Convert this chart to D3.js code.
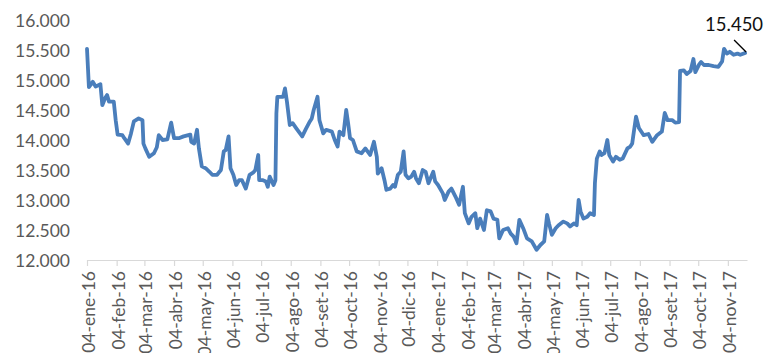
<!DOCTYPE html>
<html>
<head>
<meta charset="utf-8">
<script src="https://cdn.jsdelivr.net/npm/d3@7"></script>
<style>
  html, body { margin: 0; padding: 0; background: #fff; }
  svg { display: block; }
  text { font-family: Lato, "Liberation Sans", sans-serif; }
</style>
</head>
<body>
<svg id="chart" width="769" height="353"></svg>
<script>
// Daily closing series, 2016-01-04 .. 2017-11-22
const dates = [
  "2016-01-04","2016-01-06","2016-01-10","2016-01-13","2016-01-18","2016-01-20","2016-01-23","2016-01-25","2016-01-27",
  "2016-02-01","2016-02-03","2016-02-05","2016-02-10","2016-02-12","2016-02-16","2016-02-19","2016-02-22","2016-02-27",
  "2016-03-02","2016-03-03","2016-03-05","2016-03-09","2016-03-14","2016-03-17","2016-03-19","2016-03-23","2016-03-28",
  "2016-04-01","2016-04-04","2016-04-09","2016-04-14","2016-04-21","2016-04-22","2016-04-25","2016-04-28","2016-04-30",
  "2016-05-03","2016-05-07","2016-05-11","2016-05-14","2016-05-19","2016-05-23","2016-05-26","2016-05-28","2016-05-31",
  "2016-06-02","2016-06-05","2016-06-08","2016-06-11","2016-06-14","2016-06-18","2016-06-22","2016-06-26","2016-06-28",
  "2016-07-01","2016-07-02","2016-07-06","2016-07-09","2016-07-11","2016-07-13","2016-07-17","2016-07-19","2016-07-20",
  "2016-07-21","2016-07-25","2016-07-27","2016-07-29","2016-07-31",
  "2016-08-03","2016-08-06","2016-08-10","2016-08-16","2016-08-20","2016-08-24","2016-08-26","2016-08-28",
  "2016-09-01","2016-09-03","2016-09-07","2016-09-10","2016-09-16","2016-09-19","2016-09-22","2016-09-24","2016-09-28",
  "2016-10-01","2016-10-03","2016-10-05","2016-10-08","2016-10-12","2016-10-17","2016-10-21","2016-10-26","2016-10-30",
  "2016-11-02","2016-11-03","2016-11-07","2016-11-10","2016-11-12","2016-11-16","2016-11-19","2016-11-21","2016-11-24",
  "2016-11-27","2016-11-30",
  "2016-12-02","2016-12-05","2016-12-08","2016-12-11","2016-12-13","2016-12-16","2016-12-20","2016-12-23","2016-12-26",
  "2016-12-31",
  "2017-01-02","2017-01-05","2017-01-10","2017-01-12","2017-01-16","2017-01-19","2017-01-24","2017-01-27","2017-01-31",
  "2017-02-02","2017-02-06","2017-02-09","2017-02-13","2017-02-15","2017-02-18","2017-02-22","2017-02-25",
  "2017-03-01","2017-03-04","2017-03-08","2017-03-10","2017-03-14","2017-03-19","2017-03-22","2017-03-25","2017-03-28",
  "2017-03-31",
  "2017-04-04","2017-04-08","2017-04-13","2017-04-18","2017-04-22","2017-04-26","2017-04-29",
  "2017-05-01","2017-05-04","2017-05-08","2017-05-11","2017-05-16","2017-05-20","2017-05-23","2017-05-27","2017-05-30",
  "2017-06-01","2017-06-03","2017-06-06","2017-06-10","2017-06-13","2017-06-17","2017-06-18","2017-06-20","2017-06-23",
  "2017-06-25","2017-06-28",
  "2017-07-01","2017-07-03","2017-07-07","2017-07-10","2017-07-14","2017-07-17","2017-07-22","2017-07-25","2017-07-27",
  "2017-07-28","2017-07-31",
  "2017-08-03","2017-08-08","2017-08-13","2017-08-17","2017-08-22","2017-08-27","2017-08-30",
  "2017-09-02","2017-09-07","2017-09-10","2017-09-14","2017-09-15","2017-09-19","2017-09-22","2017-09-26","2017-09-29",
  "2017-10-01","2017-10-05","2017-10-07","2017-10-10","2017-10-15","2017-10-20","2017-10-25","2017-10-29","2017-10-31",
  "2017-11-03","2017-11-06","2017-11-10","2017-11-14","2017-11-17","2017-11-22"
];

const values = [
  15.52,14.88,14.97,14.89,14.93,14.58,14.70,14.75,14.64,
  14.64,14.33,14.09,14.08,14.03,13.94,14.11,14.31,14.36,
  14.33,13.94,13.86,13.72,13.78,13.88,14.08,14.00,14.01,
  14.29,14.03,14.03,14.06,14.09,13.97,13.94,14.17,13.86,
  13.56,13.53,13.47,13.42,13.42,13.50,13.81,13.83,14.06,
  13.53,13.42,13.25,13.33,13.33,13.19,13.42,13.46,13.50,
  13.75,13.33,13.33,13.31,13.22,13.39,13.25,13.33,14.44,
  14.72,14.72,14.72,14.86,14.64,
  14.25,14.28,14.19,14.06,14.19,14.31,14.36,14.50,
  14.72,14.33,14.11,14.17,14.14,14.00,13.89,14.14,14.08,
  14.50,14.28,14.03,14.00,13.81,13.78,13.86,13.75,13.97,
  13.72,13.44,13.53,13.33,13.17,13.19,13.25,13.22,13.42,
  13.47,13.81,
  13.42,13.36,13.39,13.47,13.36,13.28,13.50,13.47,13.28,
  13.47,
  13.31,13.25,13.11,13.00,13.14,13.19,13.03,12.92,13.22,
  12.78,12.61,12.72,12.78,12.53,12.69,12.50,12.83,
  12.81,12.69,12.67,12.36,12.50,12.53,12.44,12.39,12.28,
  12.67,
  12.53,12.36,12.31,12.17,12.25,12.31,12.75,
  12.61,12.42,12.53,12.58,12.64,12.61,12.56,12.61,12.58,
  13.00,12.81,12.69,12.72,12.78,12.75,13.28,13.69,13.81,
  13.75,13.78,
  14.00,13.75,13.64,13.72,13.67,13.69,13.86,13.89,13.94,
  14.06,14.39,
  14.20,14.08,14.10,13.97,14.08,14.14,14.45,
  14.33,14.33,14.29,14.30,15.15,15.16,15.10,15.15,15.35,
  15.13,15.26,15.30,15.25,15.25,15.23,15.22,15.31,15.52,
  15.44,15.47,15.42,15.44,15.42,15.45
];

// Monthly tick positions on the date axis
const tickDates = [
  "2016-01-04","2016-02-04","2016-03-04","2016-04-04","2016-05-04","2016-06-04",
  "2016-07-04","2016-08-04","2016-09-04","2016-10-04","2016-11-04","2016-12-04",
  "2017-01-04","2017-02-04","2017-03-04","2017-04-04","2017-05-04","2017-06-04",
  "2017-07-04","2017-08-04","2017-09-04","2017-10-04","2017-11-04"
];

const yTicks = [12, 12.5, 13, 13.5, 14, 14.5, 15, 15.5, 16];

const parse = d3.timeParse("%Y-%m-%d");
const esLocale = d3.timeFormatLocale({
  dateTime: "%A, %e de %B de %Y, %X",
  date: "%d/%m/%Y",
  time: "%H:%M:%S",
  periods: ["AM", "PM"],
  days: ["domingo","lunes","martes","miércoles","jueves","viernes","sábado"],
  shortDays: ["dom","lun","mar","mié","jue","vie","sáb"],
  months: ["enero","febrero","marzo","abril","mayo","junio","julio","agosto","setiembre","octubre","noviembre","diciembre"],
  shortMonths: ["ene","feb","mar","abr","may","jun","jul","ago","set","oct","nov","dic"]
});
const fmtDate = esLocale.format("%d-%b-%y");
const fmtVal = d3.format(".3f");

const series = dates.map((d, i) => ({ date: parse(d), value: values[i] }));

const svg = d3.select("#chart");

const x = d3.scaleTime()
  .domain([parse("2016-01-04"), parse("2017-11-24")])
  .range([87, 747]);

const y = d3.scaleLinear()
  .domain([12, 16])
  .range([260, 20]);

// Value axis: labels only
const yAxis = svg.append("g")
  .attr("transform", "translate(70,0)")
  .call(d3.axisLeft(y).tickValues(yTicks).tickFormat(fmtVal).tickSize(0).tickPadding(0));
yAxis.select(".domain").remove();
yAxis.selectAll("text")
  .attr("fill", "#595959")
  .style("font-size", "17.5px")
  .attr("dy", "0.36em");

// Date axis
const xAxis = svg.append("g")
  .attr("transform", "translate(0,260)")
  .call(d3.axisBottom(x).tickValues(tickDates.map(parse)).tickFormat(fmtDate).tickSize(6).tickSizeOuter(0));
xAxis.select(".domain").attr("stroke", "#d9d9d9").attr("stroke-width", 1.2);
xAxis.selectAll(".tick line").attr("stroke", "#d9d9d9").attr("stroke-width", 1.2);
xAxis.selectAll(".tick text")
  .attr("fill", "#595959")
  .style("font-size", "17.5px")
  .attr("transform", "rotate(-90)")
  .attr("text-anchor", "end")
  .attr("x", -11)
  .attr("y", 0)
  .attr("dy", "0.42em");

// Series line
const line = d3.line()
  .x(d => x(d.date))
  .y(d => y(d.value));

svg.append("path")
  .datum(series)
  .attr("fill", "none")
  .attr("stroke", "#4a7ebb")
  .attr("stroke-width", 3.8)
  .attr("stroke-linejoin", "round")
  .attr("stroke-linecap", "round")
  .attr("d", line);

// Label on the last value with a leader line
const last = series[series.length - 1];
const lx = x(last.date), ly = y(last.value);
svg.append("line")
  .attr("x1", lx - 11).attr("y1", ly - 13)
  .attr("x2", lx + 1).attr("y2", ly - 1)
  .attr("stroke", "#000").attr("stroke-width", 1.3);
svg.append("text")
  .attr("x", lx - 11)
  .attr("y", ly - 22)
  .attr("text-anchor", "middle")
  .attr("fill", "#111")
  .style("font-size", "18.5px")
  .text(fmtVal(last.value));
</script>
</body>
</html>
